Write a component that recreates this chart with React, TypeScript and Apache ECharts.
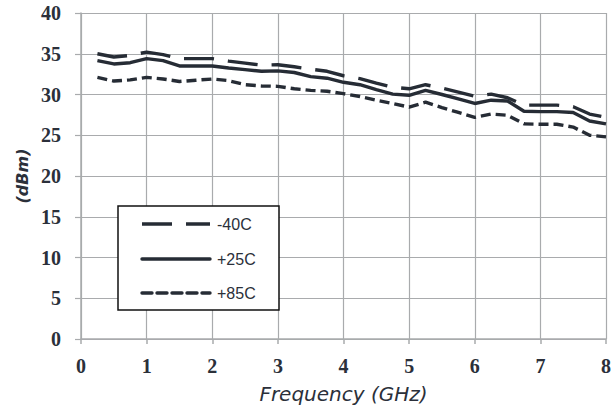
import React, { useEffect, useRef } from "react";
import * as echarts from "echarts";

const freqs = [
  0.25, 0.5, 0.75, 1.0, 1.25, 1.5, 1.75, 2.0, 2.25, 2.5, 2.75, 3.0, 3.25, 3.5, 3.75, 4.0,
  4.25, 4.5, 4.75, 5.0, 5.25, 5.5, 5.75, 6.0, 6.25, 6.5, 6.75, 7.0, 7.25, 7.5, 7.75, 8.0,
];
const minus40 = [
  35.0, 34.6, 34.8, 35.2, 34.9, 34.4, 34.4, 34.4, 34.1, 33.85, 33.6, 33.65, 33.4, 33.1, 32.85, 32.3,
  31.95, 31.4, 30.9, 30.7, 31.2, 30.8, 30.3, 29.8, 30.05, 29.6, 28.7, 28.7, 28.7, 28.5, 27.6, 27.2,
];
const plus25 = [
  34.15, 33.75, 33.9, 34.4, 34.15, 33.5, 33.5, 33.5, 33.25, 33.05, 32.85, 32.9, 32.7, 32.2, 32.0, 31.5,
  31.2, 30.6, 30.05, 29.9, 30.5, 30.0, 29.45, 28.9, 29.3, 29.2, 27.95, 27.9, 27.9, 27.8, 26.75, 26.4,
];
const plus85 = [
  32.1, 31.65, 31.8, 32.1, 31.9, 31.6, 31.75, 31.9, 31.7, 31.2, 31.05, 31.0, 30.7, 30.5, 30.4, 30.1,
  29.75, 29.3, 28.9, 28.45, 29.05, 28.4, 27.8, 27.2, 27.6, 27.45, 26.4, 26.35, 26.35, 26.0, 25.0, 24.8,
];
const seriesNames = ["-40C", "+25C", "+85C"];
const xTicks = [0, 1, 2, 3, 4, 5, 6, 7, 8];
const yTicks = [0, 5, 10, 15, 20, 25, 30, 35, 40];

const LINE = "#262c35";
const TEXT = "#2b303a";
const GRID = "#a9abad";

export default function App() {
  const ref = useRef<HTMLDivElement>(null);
  useEffect(() => {
    document.body.style.margin = "0";
    const chart = echarts.init(ref.current!, null, { renderer: "svg" });
    const mk = (vals: number[]) => freqs.map((f, i) => [f, vals[i]]);
    const styles: any[] = [
      { lineDash: [30, 14], dash: [30, 14] },
      { lineDash: null, dash: "solid" },
      { lineDash: [10, 5], dash: [10, 5] },
    ];
    const datasets = [minus40, plus25, plus85];

    const legendX = 118;
    const legendY = 206;
    const rowYs = [224, 259, 293];
    const legendItems: any[] = [
      {
        type: "rect",
        shape: { x: legendX, y: legendY, width: 161, height: 104 },
        style: { fill: "#ffffff", stroke: "#111111", lineWidth: 1.5 },
        z: 10,
      },
    ];
    seriesNames.forEach((n, i) => {
      legendItems.push({
        type: "line",
        shape: { x1: 142, y1: rowYs[i], x2: 210, y2: rowYs[i] },
        style: {
          stroke: LINE,
          lineWidth: 3.4,
          lineDash: styles[i].lineDash,
          lineCap: i === 0 ? "butt" : "round",
        },
        z: 11,
      });
      legendItems.push({
        type: "text",
        x: 217,
        y: rowYs[i],
        style: {
          text: n,
          fill: TEXT,
          font: "16px 'Liberation Sans'",
          verticalAlign: "middle",
          align: "left",
        },
        z: 11,
      });
    });

    chart.setOption({
      animation: false,
      backgroundColor: "#ffffff",
      grid: { left: 81, right: 5, top: 13, bottom: 75, containLabel: false },
      xAxis: {
        type: "value",
        min: xTicks[0],
        max: xTicks[xTicks.length - 1],
        interval: 1,
        name: "Frequency (GHz)",
        nameLocation: "middle",
        nameGap: 45,
        nameTextStyle: { fontFamily: "DejaVu Sans", fontStyle: "italic", fontSize: 20, color: TEXT },
        axisLine: { show: true, lineStyle: { color: GRID, width: 1.5 } },
        axisTick: { show: true, length: 5, lineStyle: { color: GRID, width: 1.5 } },
        axisLabel: { margin: 17, fontFamily: "Liberation Serif", fontWeight: "bold", fontSize: 20, color: TEXT },
        splitLine: { show: true, lineStyle: { color: GRID, width: 1.2 } },
      },
      yAxis: {
        type: "value",
        min: yTicks[0],
        max: yTicks[yTicks.length - 1],
        interval: 5,
        name: "(dBm)",
        nameLocation: "middle",
        nameRotate: 90,
        nameGap: 48,
        nameTextStyle: { fontFamily: "DejaVu Sans", fontStyle: "italic", fontWeight: "bold", fontSize: 16, color: TEXT },
        axisLine: { show: true, lineStyle: { color: GRID, width: 1.5 } },
        axisTick: { show: true, length: 6, lineStyle: { color: GRID, width: 1.2 } },
        axisLabel: { margin: 20, fontFamily: "Liberation Serif", fontWeight: "bold", fontSize: 20, color: TEXT },
        splitLine: { show: true, lineStyle: { color: GRID, width: 1.2 } },
      },
      legend: { show: false },
      graphic: legendItems,
      series: seriesNames.map((n, i) => ({
        name: n,
        type: "line",
        data: mk(datasets[i]),
        symbol: "none",
        showSymbol: false,
        color: LINE,
        lineStyle: { color: LINE, width: 3.4, type: styles[i].dash },
        z: 3,
      })),
    });
    return () => chart.dispose();
  }, []);
  return <div ref={ref} style={{ width: 614, height: 414 }} />;
}
